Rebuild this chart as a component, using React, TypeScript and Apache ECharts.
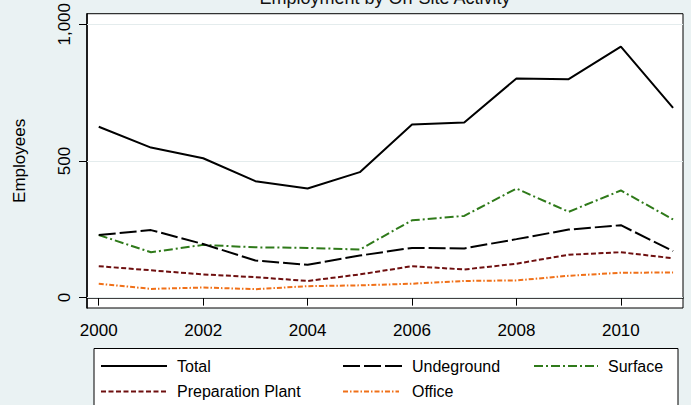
import React, { useEffect, useRef } from "react";
import * as echarts from "echarts";

const years = [2000, 2001, 2002, 2003, 2004, 2005, 2006, 2007, 2008, 2009, 2010, 2011];
const total = [625, 549, 510, 426, 399, 459, 633, 641, 802, 799, 918, 694];
const underground = [229, 247, 196, 136, 120, 154, 182, 180, 214, 249, 265, 170];
const surface = [229, 166, 193, 184, 182, 176, 283, 299, 399, 314, 392, 286];
const prepPlant = [115, 100, 85, 75, 61, 85, 115, 103, 124, 157, 166, 144];
const office = [51, 32, 37, 31, 42, 45, 51, 61, 63, 80, 91, 92];
const xTicks = [2000, 2002, 2004, 2006, 2008, 2010];
const yTicks = [0, 500, 1000];

const FONT = "Liberation Sans, Arial, Helvetica, sans-serif";

const seriesDefs = [
  { name: "Total", data: total, color: "#000000", dash: "solid" as any, lx: 101, ll: 66, row: 0, tx: 177 },
  { name: "Undeground", data: underground, color: "#000000", dash: [17, 4], lx: 343, ll: 60, row: 0, tx: 412 },
  { name: "Surface", data: surface, color: "#2f7a1a", dash: [9, 3, 2, 3], lx: 534, ll: 64, row: 0, tx: 608 },
  { name: "Preparation Plant", data: prepPlant, color: "#6e0f0f", dash: [5, 2.5], lx: 101, ll: 66, row: 1, tx: 177 },
  { name: "Office", data: office, color: "#f07018", dash: [5, 2, 1.5, 2], lx: 343, ll: 56, row: 1, tx: 412 },
];

export default function App() {
  const ref = useRef<HTMLDivElement>(null);
  useEffect(() => {
    if (!ref.current) return;
    const chart = echarts.init(ref.current, null, { renderer: "svg" });
    const rowY = [366, 391.5];
    const legendGraphics: any[] = [
      {
        type: "rect",
        shape: { x: 94, y: 348.5, width: 584, height: 70 },
        style: { fill: "#ffffff", stroke: "#000000", lineWidth: 1 },
      },
    ];
    seriesDefs.forEach((s) => {
      legendGraphics.push({
        type: "line",
        shape: { x1: s.lx, y1: rowY[s.row], x2: s.lx + s.ll, y2: rowY[s.row] },
        style: { stroke: s.color, lineWidth: 2, lineDash: s.dash === "solid" ? null : s.dash },
      });
      legendGraphics.push({
        type: "text",
        x: s.tx,
        y: rowY[s.row],
        style: { text: s.name, fill: "#000", font: `16px ${FONT}`, textVerticalAlign: "middle", verticalAlign: "middle" },
      });
    });
    chart.setOption({
      animation: false,
      backgroundColor: "#eaf2f3",
      textStyle: { fontFamily: FONT },
      grid: {
        left: 87,
        top: 10,
        width: 596,
        height: 298,
        show: true,
        backgroundColor: "#ffffff",
        borderColor: "#000000",
        borderWidth: 1,
      },
      xAxis: {
        type: "value",
        min: 1999.775,
        max: 2011.19,
        axisLine: { show: true, lineStyle: { color: "#000", width: 1.5 } },
        axisTick: { show: true, length: 8, customValues: xTicks, lineStyle: { color: "#000", width: 1 } },
        axisLabel: {
          customValues: xTicks,
          fontSize: 17,
          color: "#000",
          margin: 14,
          fontFamily: FONT,
          formatter: (v: number) => String(v),
        },
        splitLine: { show: false },
      },
      yAxis: {
        type: "value",
        min: -37.9,
        max: 1038.6,
        name: "Employees",
        nameLocation: "middle",
        nameRotate: 90,
        nameGap: 59,
        nameTextStyle: { fontSize: 17, color: "#000", fontFamily: FONT },
        axisLine: { show: true, lineStyle: { color: "#000", width: 1.5 } },
        axisTick: { show: true, length: 8, customValues: yTicks, lineStyle: { color: "#000", width: 1 } },
        axisLabel: {
          customValues: yTicks,
          rotate: 90,
          fontSize: 17,
          color: "#000",
          margin: 14,
          fontFamily: FONT,
          formatter: (v: number) => v.toLocaleString("en-US"),
        },
        splitLine: { show: false },
      },
      series: seriesDefs.map((s, i) => ({
        name: s.name,
        type: "line",
        data: s.data.map((v, j) => [years[j], v]),
        symbol: "none",
        z: 10 - i,
        lineStyle: { color: s.color, width: 2, type: s.dash },
        ...(i === 0
          ? {
              markLine: {
                silent: true,
                symbol: "none",
                label: { show: false },
                lineStyle: { color: "#e4eced", width: 1, type: "solid" },
                data: yTicks.map((v) => ({ yAxis: v })),
                z: 1,
              },
            }
          : {}),
      })),
      graphic: [
        {
          type: "text",
          x: 385,
          y: 7,
          style: {
            text: "Employment by On-Site Activity",
            fill: "#111",
            font: `18px ${FONT}`,
            textAlign: "center",
            align: "center",
            verticalAlign: "bottom",
            textVerticalAlign: "bottom",
          },
        },
        ...legendGraphics,
      ],
    });
    return () => chart.dispose();
  }, []);
  return <div ref={ref} style={{ position: "fixed", left: 0, top: 0, width: 691, height: 405 }} />;
}
